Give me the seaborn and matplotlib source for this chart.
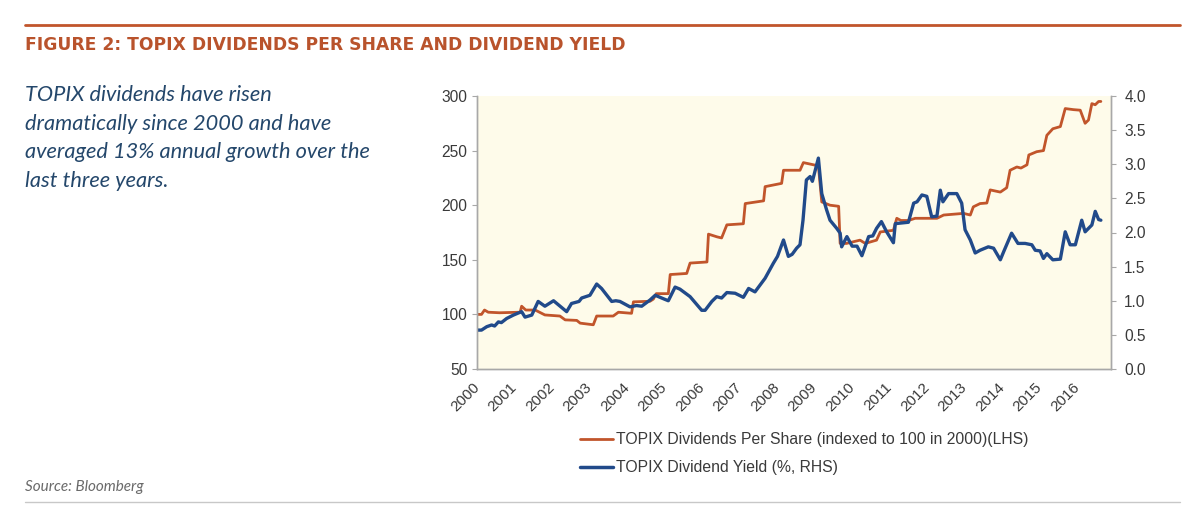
import matplotlib
matplotlib.use("Agg")
import matplotlib.pyplot as plt
import seaborn as sns
import pandas as pd
from matplotlib.lines import Line2D

# ---------------- data ----------------
dps_years = [2000.0, 2000.12, 2000.2, 2000.3, 2000.6, 2001.15, 2001.19, 2001.3, 2001.55, 2001.81,
             2002.21, 2002.35, 2002.66, 2002.75, 2003.1, 2003.19, 2003.63, 2003.77, 2004.12, 2004.17,
             2004.61, 2004.7, 2004.78, 2005.1, 2005.15, 2005.59, 2005.68, 2006.13, 2006.17, 2006.4,
             2006.52, 2006.66, 2007.1, 2007.15, 2007.64, 2007.68, 2008.12, 2008.17, 2008.61, 2008.7,
             2008.97, 2009.1, 2009.19, 2009.41, 2009.64, 2009.68, 2009.85, 2010.21, 2010.35, 2010.65,
             2010.75, 2011.1, 2011.19, 2011.3, 2011.5, 2011.68, 2012.26, 2012.44, 2012.97, 2013.15,
             2013.23, 2013.41, 2013.59, 2013.68, 2013.95, 2014.12, 2014.21, 2014.39, 2014.5, 2014.66,
             2014.71, 2014.92, 2015.1, 2015.19, 2015.35, 2015.55, 2015.68, 2015.9, 2016.08, 2016.21,
             2016.3, 2016.39, 2016.48, 2016.57, 2016.63]
dps_values = [100, 100, 104, 102, 101.5, 102, 107.5, 104, 104, 99.5,
              98.5, 95, 94.5, 92, 90.5, 98.5, 98.5, 102, 101, 111.5,
              112, 114, 119, 119, 136.5, 137.5, 147, 148, 173.5, 171,
              170, 182, 183, 201.5, 204, 217, 220, 232, 232, 239,
              237, 236, 203, 200, 199, 165, 165, 168, 165, 168,
              175.5, 177, 188, 186, 186, 188, 188, 191, 192.5, 191,
              198.5, 201.5, 202, 214, 212, 216, 232, 235, 234, 237,
              246, 249, 250, 264, 270, 272, 288.5, 287.5, 287, 275,
              278, 293, 292, 295, 295]

yield_years = [2000.0, 2000.12, 2000.26, 2000.39, 2000.47, 2000.57, 2000.65, 2000.79, 2000.97, 2001.1,
               2001.19, 2001.28, 2001.46, 2001.63, 2001.81, 2002.04, 2002.39, 2002.52, 2002.72, 2002.79,
               2003.01, 2003.19, 2003.32, 2003.59, 2003.7, 2003.81, 2004.08, 2004.25, 2004.39, 2004.61,
               2004.75, 2005.01, 2005.1, 2005.28, 2005.41, 2005.68, 2005.99, 2006.08, 2006.26, 2006.39,
               2006.52, 2006.66, 2006.88, 2007.1, 2007.24, 2007.41, 2007.68, 2007.9, 2008.01, 2008.17,
               2008.3, 2008.4, 2008.52, 2008.61, 2008.69, 2008.78, 2008.88, 2008.94, 2009.1, 2009.19,
               2009.32, 2009.41, 2009.59, 2009.68, 2009.72, 2009.86, 2010.0, 2010.13, 2010.26, 2010.44,
               2010.55, 2010.65, 2010.78, 2010.92, 2011.1, 2011.15, 2011.5, 2011.64, 2011.73, 2011.86,
               2011.99, 2012.12, 2012.26, 2012.35, 2012.42, 2012.57, 2012.79, 2012.92, 2013.01, 2013.15,
               2013.28, 2013.41, 2013.63, 2013.77, 2013.95, 2014.04, 2014.25, 2014.42, 2014.61, 2014.79,
               2014.88, 2015.01, 2015.1, 2015.19, 2015.35, 2015.55, 2015.68, 2015.81, 2015.95, 2016.12,
               2016.21, 2016.39, 2016.48, 2016.57, 2016.63]
yield_values = [0.57, 0.57, 0.62, 0.645, 0.63, 0.69, 0.68, 0.74, 0.79, 0.82,
                0.84, 0.76, 0.79, 0.99, 0.92, 1.0, 0.84, 0.96, 0.99, 1.04,
                1.08, 1.245, 1.18, 0.99, 1.0, 0.99, 0.91, 0.93, 0.92, 1.01,
                1.08, 1.02, 1.0, 1.2, 1.17, 1.06, 0.86, 0.86, 0.99, 1.06,
                1.04, 1.12, 1.11, 1.05, 1.18, 1.13, 1.33, 1.55, 1.65, 1.89,
                1.65, 1.68, 1.77, 1.82, 2.18, 2.77, 2.82, 2.75, 3.09, 2.57,
                2.33, 2.18, 2.06, 1.99, 1.79, 1.94, 1.8, 1.8, 1.66, 1.94,
                1.95, 2.06, 2.16, 2.01, 1.85, 2.13, 2.15, 2.43, 2.45, 2.55,
                2.53, 2.23, 2.24, 2.62, 2.45, 2.57, 2.57, 2.43, 2.04, 1.89,
                1.70, 1.74, 1.79, 1.77, 1.6, 1.72, 1.99, 1.84, 1.84, 1.82,
                1.74, 1.73, 1.62, 1.69, 1.6, 1.61, 2.01, 1.82, 1.82, 2.18,
                2.01, 2.11, 2.31, 2.19, 2.18]

year_ticks = list(range(2000, 2017))
left_ticks = [50, 100, 150, 200, 250, 300]
right_ticks = [0.0, 0.5, 1.0, 1.5, 2.0, 2.5, 3.0, 3.5, 4.0]

dps_label = "TOPIX Dividends Per Share (indexed to 100 in 2000)(LHS)"
yield_label = "TOPIX Dividend Yield (%, RHS)"
title = "FIGURE 2: TOPIX DIVIDENDS PER SHARE AND DIVIDEND YIELD"
subtitle_lines = ["TOPIX dividends have risen",
                  "dramatically since 2000 and have",
                  "averaged 13% annual growth over the",
                  "last three years."]
source = "Source: Bloomberg"

# ---------------- style ----------------
sns.set_theme(style="white")
plt.rcParams["font.family"] = ["Liberation Sans", "DejaVu Sans"]

ORANGE = "#c1552b"
BLUE = "#214a8a"
GRAYTXT = "#3a3a3a"
AXCOL = "#a8a8a8"

W, H = 1200, 517
fig = plt.figure(figsize=(W / 100, H / 100), dpi=100)
fig.patch.set_facecolor("white")

def fx(px):
    return px / W

def fy(py):
    return 1 - py / H

ax = fig.add_axes([fx(477), fy(369), fx(1111) - fx(477), fy(96) - fy(369)])
ax.set_facecolor("#fefbea")
ax2 = ax.twinx()

dps_df = pd.DataFrame({"year": dps_years, "value": dps_values})
yld_df = pd.DataFrame({"year": yield_years, "value": yield_values})

sns.lineplot(data=dps_df, x="year", y="value", ax=ax, color=ORANGE, linewidth=2.0,
             sort=False, estimator=None)
sns.lineplot(data=yld_df, x="year", y="value", ax=ax2, color=BLUE, linewidth=2.4,
             sort=False, estimator=None)

ax.set_xlim(2000, 2016.9)
ax.set_ylim(50, 300)
ax2.set_ylim(0, 4.0)
ax.set_xticks(year_ticks)
ax.set_xticklabels([str(y) for y in year_ticks], rotation=45, ha="right", va="center",
                   rotation_mode="anchor", fontsize=11, color=GRAYTXT)
ax.set_yticks(left_ticks)
ax.set_yticklabels([str(v) for v in left_ticks], fontsize=11.2, color=GRAYTXT)
ax2.set_yticks(right_ticks)
ax2.set_yticklabels([f"{v:.1f}" for v in right_ticks], fontsize=11.2, color=GRAYTXT)
ax.set_xlabel("")
ax.set_ylabel("")
ax2.set_xlabel("")
ax2.set_ylabel("")

for a in (ax, ax2):
    a.spines["top"].set_visible(False)
    for s in ("left", "right", "bottom"):
        a.spines[s].set_color(AXCOL)
        a.spines[s].set_linewidth(1.0)
    a.grid(False)
ax.tick_params(axis="y", direction="out", length=3.6, width=0.8, color=AXCOL, pad=3.5)
ax.tick_params(axis="x", direction="out", length=3.6, width=0.8, color=AXCOL, pad=8)
ax2.tick_params(axis="y", direction="out", length=3.6, width=0.8, color=AXCOL, pad=6)

# legend
handles = [Line2D([0], [0], color=ORANGE, lw=2.0), Line2D([0], [0], color=BLUE, lw=2.5)]
fig.legend(handles, [dps_label, yield_label], loc="upper left",
           bbox_to_anchor=(fx(566), fy(418)), frameon=False, fontsize=11.3,
           handlelength=2.1, handletextpad=0.17, labelspacing=0.82,
           labelcolor=GRAYTXT)

# header rule and title
fig.add_artist(Line2D([fx(25), fx(1180)], [fy(25), fy(25)], color="#c1552b", lw=2.0))
fig.text(fx(25), fy(45), title, fontsize=12.3, fontweight="bold", color="#b9532c",
         family=["DejaVu Sans"], va="center", ha="left")

# side text
for i, line in enumerate(subtitle_lines):
    fig.text(fx(25), fy(95 + i * 28.7), line, fontsize=15.7, style="italic",
             color="#24476b", family=["Lato", "DejaVu Sans"], va="center", ha="left")

# source + bottom rule
fig.text(fx(25), fy(487), source, fontsize=11, style="italic", color="#6a6a6a",
         family=["Lato", "DejaVu Sans"], va="center", ha="left")
fig.add_artist(Line2D([fx(25), fx(1180)], [fy(502), fy(502)], color="#c8c8c8", lw=1.0))

fig.savefig("out.png", dpi=100, facecolor="white")
